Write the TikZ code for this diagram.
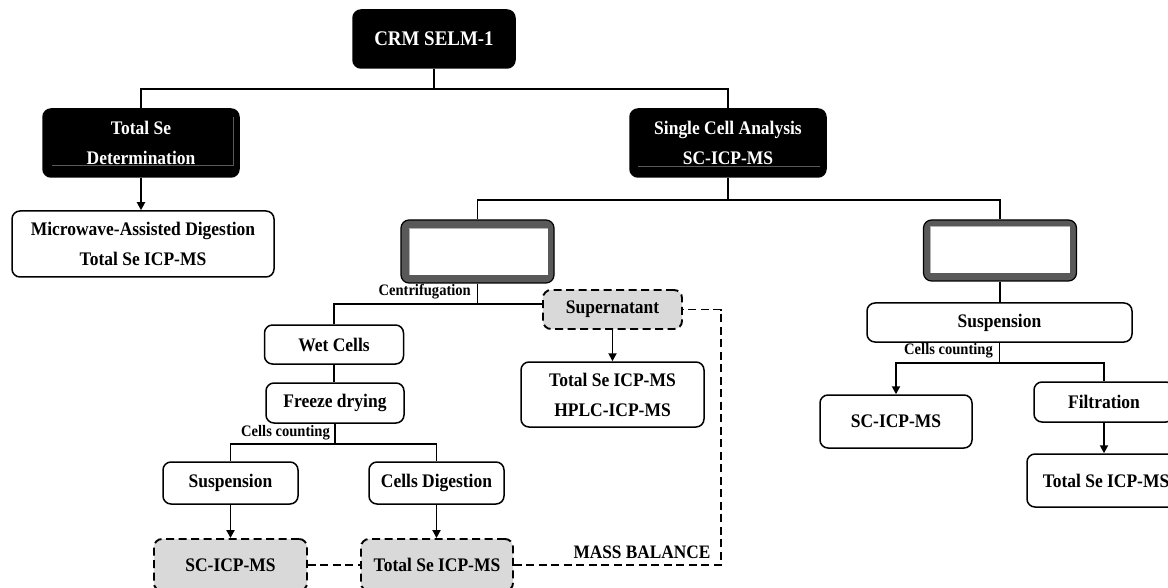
\documentclass[tikz,border=0pt]{standalone}
\usepackage{fontspec}
\setmainfont{Liberation Serif}[FakeStretch=0.91]
\usetikzlibrary{arrows.meta,calc}
\definecolor{framegray}{HTML}{595959}
\definecolor{boxgray}{HTML}{D9D9D9}
\tikzset{
  base/.style={rounded corners=8pt, line width=1.5pt, inner sep=0pt, align=center, font=\fontsize{19.2}{30}\selectfont\bfseries},
  wbox/.style={base, draw=black, fill=white},
  bbox/.style={base, draw=black, fill=black, text=white},
  dbox/.style={base, draw=black, fill=boxgray, dash pattern=on 8pt off 4.5pt, line width=1.9pt},
  fbox/.style={draw=black, fill=framegray, rounded corners=8pt, line width=1.2pt, inner sep=0pt},
  conn/.style={line width=1.9pt},
  arr/.style={conn, -{Triangle[length=8pt,width=8pt]}},
  dconn/.style={line width=1.9pt, dash pattern=on 8pt off 4.5pt},
  lab/.style={font=\fontsize{16}{18}\selectfont\bfseries, inner sep=0pt},
  biglab/.style={font=\fontsize{19}{22}\selectfont\bfseries, inner sep=0pt},
  artifact/.style={black!65, line width=0.6pt},
  hilite/.style={black!30, line width=1pt},
}
\begin{document}
\begin{tikzpicture}[x=1pt,y=-1pt]
\useasboundingbox (0,0) rectangle (1168,588);
\clip (0,0) rectangle (1168,588);

% top level
\node[bbox, minimum width=162pt, minimum height=58pt] (crm) at (434,39) {\fontsize{20.8}{24}\selectfont CRM SELM-1};
\node[bbox, minimum width=196pt, minimum height=68pt] (tot) at (141,143) {Total Se\\Determination};
\node[bbox, minimum width=196pt, minimum height=68pt] (sca) at (728,143) {Single Cell Analysis\\SC-ICP-MS};
\draw[artifact] (52,165) -- (233,165) -- (233,117);
\draw[artifact] (638,166) -- (820,166);
\node[wbox, minimum width=262pt, minimum height=66pt] (mw) at (143,244) {Microwave-Assisted Digestion\\Total Se ICP-MS};

% frames
\node[fbox, minimum width=153pt, minimum height=63pt] (gl) at (477.5,251.5) {};
\node[fbox, minimum width=153pt, minimum height=61pt] (gr) at (1000,250.5) {};
\fill[white] ($(gl.north west)+(9,9)$) rectangle ($(gl.south east)+(-7,-9)$);
\fill[white] ($(gr.north west)+(8,7)$) rectangle ($(gr.south east)+(-7,-9)$);
\draw[hilite] ($(gl.south west)+(9,-9)$) -- ($(gl.north west)+(9,9)$) -- ($(gl.north east)+(-7,9)$);
\draw[hilite] ($(gr.south west)+(8,-9)$) -- ($(gr.north west)+(8,7)$) -- ($(gr.north east)+(-7,7)$);

% left branch
\node[dbox, minimum width=139pt, minimum height=39pt] (sup) at (612.5,309.5) {Supernatant};
\node[wbox, minimum width=183pt, minimum height=65pt] (th) at (612.5,394.5) {Total Se ICP-MS\\HPLC-ICP-MS};
\node[wbox, minimum width=139pt, minimum height=39pt] (wet) at (334,344.5) {Wet Cells};
\node[wbox, minimum width=138pt, minimum height=40pt] (fd) at (335,403) {Freeze drying};
\node[wbox, minimum width=135pt, minimum height=42pt] (susL) at (230.5,483) {Suspension};
\node[wbox, minimum width=135pt, minimum height=42pt] (cd) at (436.5,483) {Cells Digestion};
\node[dbox, minimum width=153pt, minimum height=52pt] (scL) at (230.5,565) {SC-ICP-MS};
\node[dbox, minimum width=152pt, minimum height=52pt] (tsL) at (437,565) {Total Se ICP-MS};

% right branch
\node[wbox, minimum width=265pt, minimum height=39pt] (susR) at (999.5,322.5) {Suspension};
\node[wbox, minimum width=152pt, minimum height=53pt] (scR) at (896,421.5) {SC-ICP-MS};
\node[wbox, minimum width=140pt, minimum height=40pt] (filt) at (1104,402) {Filtration};
\node[wbox, minimum width=158pt, minimum height=53pt] (tsR) at (1106,480.5) {Total Se ICP-MS};

% labels
\node[lab, anchor=east] (lcent) at (471,292) {Centrifugation};
\node[lab, anchor=east] (lcc1) at (330,433) {Cells counting};
\node[lab, anchor=east] (lcc2) at (993,351) {Cells counting};
\node[biglab] (lmb) at (642,552) {MASS BALANCE};

% connectors
\draw[conn] (crm.south) -- ++(0,20) coordinate (j1);
\draw[conn] (tot.north) |- (j1) -| (sca.north);
\draw[arr] (tot.south) -- (tot.south |- mw.north);
\draw[conn] (sca.south) -- ++(0,22) coordinate (j2);
\draw[conn] (gl.north) |- (j2) -| (gr.north);
\draw[conn] (gl.south) -- ++(0,20) coordinate (j3);
\draw[conn] (wet.north) |- (j3) -- (j3 -| sup.west);
\draw[arr] (sup.south) -- (th.north);
\draw[conn] (wet.south) -- (wet.south |- fd.north);
\draw[conn] (fd.south) -- ++(0,20) coordinate (j4);
\draw[conn] (susL.north) |- (j4) -| (cd.north);
\draw[arr] (susL.south) -- (scL.north);
\draw[arr] (cd.south) -- (cd.south |- tsL.north);
\draw[dconn] (scL.east) -- (tsL.west);
\draw[dconn] (tsL.east) -- (721,565) |- (sup.east);
\draw[conn] (gr.south) -- (gr.south |- susR.north);
\draw[conn] (susR.south) -- ++(0,20) coordinate (j5);
\draw[arr] (j5) -| (scR.north);
\draw[conn] (j5) -| (filt.north);
\draw[arr] (filt.south) -- (filt.south |- tsR.north);
\end{tikzpicture}
\end{document}
